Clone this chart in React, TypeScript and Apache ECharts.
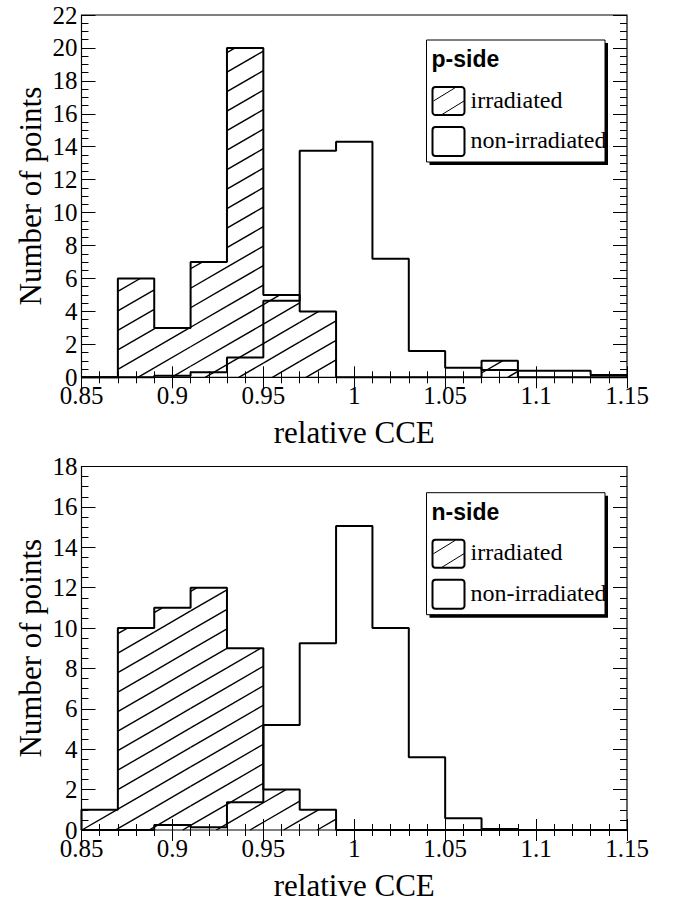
import React, { useEffect, useRef } from "react";
import * as echarts from "echarts";

// Histogram binning (relative CCE), 15 bins of width 0.02
const binEdges = [0.85, 0.87, 0.89, 0.91, 0.93, 0.95, 0.97, 0.99, 1.01, 1.03, 1.05, 1.07, 1.09, 1.11, 1.13, 1.15];

// p-side counts per bin
const pSideIrradiated = [0, 6, 3, 7, 20, 5, 4, 0, 0, 0, 0, 1, 0, 0, 0];
const pSideNonIrradiated = [0, 0, 0.1, 0.3, 1.2, 4.65, 13.75, 14.3, 7.2, 1.6, 0.58, 0.45, 0.4, 0.4, 0.14];

// n-side counts per bin
const nSideIrradiated = [1, 10, 11, 12, 9, 2, 1, 0, 0, 0, 0, 0, 0, 0, 0];
const nSideNonIrradiated = [0, 0, 0.25, 0.13, 1.37, 5.2, 9.25, 15.05, 10, 3.6, 0.58, 0.05, 0, 0, 0];

const xTicks = { min: 0.85, max: 1.15, interval: 0.05 };
const pSideY = { min: 0, max: 22, interval: 2 };
const nSideY = { min: 0, max: 18, interval: 2 };

const panelTitles = ["p-side", "n-side"];
const legendLabels = ["irradiated", "non-irradiated"];
const xTitle = "relative CCE";
const yTitle = "Number of points";

const SERIF = "'Liberation Serif', 'Times New Roman', serif";
const SANS = "'Liberation Sans', Arial, sans-serif";

// Hatch geometry (pixels)
const HATCH_SLOPE = 0.58;
const HATCH_SPACING = 19.5;

// bins -> [lo, hi, value]
const toBins = (vals: number[]) => vals.map((v, i) => [binEdges[i], binEdges[i + 1], v]);

// step outline through the bin edges, closed down to zero at both ends
const toOutline = (vals: number[]) => {
  const pts: number[][] = [[binEdges[0], 0]];
  vals.forEach((v, i) => pts.push([binEdges[i], v]));
  pts.push([binEdges[vals.length], vals[vals.length - 1]]);
  pts.push([binEdges[vals.length], 0]);
  return pts;
};

// diagonal "/" hatching clipped to each bin's rectangle
const hatchRenderer = (phase: number) => (params: any, api: any) => {
  const lo = api.value(0);
  const hi = api.value(1);
  const v = api.value(2);
  if (!(v > 0)) return { type: "group", children: [] };
  const p0 = api.coord([lo, 0]);
  const p1 = api.coord([hi, v]);
  const left = p0[0];
  const right = p1[0];
  const bottom = p0[1];
  const top = p1[1];
  const s = HATCH_SLOPE;
  const cMin = top + s * left;
  const cMax = bottom + s * right;
  const kStart = Math.ceil((cMin - phase) / HATCH_SPACING);
  const children: any[] = [];
  for (let k = kStart; phase + k * HATCH_SPACING <= cMax; k++) {
    const c = phase + k * HATCH_SPACING;
    const xa = Math.max(left, (c - bottom) / s);
    const xb = Math.min(right, (c - top) / s);
    if (xb - xa < 0.5) continue;
    children.push({
      type: "line",
      shape: { x1: xa, y1: c - s * xa, x2: xb, y2: c - s * xb },
      style: { stroke: "#000", lineWidth: 1.4 },
    });
  }
  return { type: "group", children };
};

const gridBox = [
  { left: 81.5, top: 15, width: 545.5, height: 362.3 },
  { left: 81.5, top: 466.5, width: 545.5, height: 363.5 },
];

const tickStyle = { color: "#000", width: 1 };

const makeX = (gridIndex: number, position: "bottom" | "top") => ({
  type: "value",
  gridIndex,
  position,
  min: xTicks.min,
  max: xTicks.max,
  interval: xTicks.interval,
  axisLine: { show: false },
  splitLine: { show: false },
  axisTick: { show: true, inside: true, length: 11, lineStyle: tickStyle },
  minorTick: { show: true, splitNumber: 5, length: 6, lineStyle: tickStyle },
  axisLabel: {
    show: position === "bottom",
    margin: 8,
    fontFamily: SERIF,
    fontSize: 25,
    lineHeight: 20,
    color: "#000",
    formatter: (v: number) => String(Math.round(v * 100) / 100),
  },
});

const makeY = (gridIndex: number, position: "left" | "right", range: { min: number; max: number; interval: number }) => ({
  type: "value",
  gridIndex,
  position,
  min: range.min,
  max: range.max,
  interval: range.interval,
  axisLine: { show: false },
  splitLine: { show: false },
  axisTick: { show: true, inside: true, length: 14, lineStyle: tickStyle },
  minorTick: { show: true, splitNumber: 4, length: 7, lineStyle: tickStyle },
  axisLabel: {
    show: position === "left",
    margin: 4,
    fontFamily: SERIF,
    fontSize: 25,
    lineHeight: 16,
    color: "#000",
  },
});

const outlineSeries = (vals: number[], xi: number, yi: number) => ({
  type: "line",
  xAxisIndex: xi,
  yAxisIndex: yi,
  step: "end",
  symbol: "none",
  clip: false,
  silent: true,
  lineStyle: { color: "#000", width: 2 },
  data: toOutline(vals),
  z: 5,
});

const hatchSeries = (vals: number[], xi: number, yi: number, phase: number) => ({
  type: "custom",
  xAxisIndex: xi,
  yAxisIndex: yi,
  silent: true,
  encode: { x: [0, 1], y: 2 },
  renderItem: hatchRenderer(phase),
  data: toBins(vals),
  z: 3,
});

// Legend box with drop shadow, title and two swatches
const legendGraphic = (title: string, dy: number) => {
  const bx = 426.5;
  const by = 40 + dy;
  const bw = 178.5;
  const bh = 122;
  const sx = 432.5;
  return [
    { type: "rect", shape: { x: bx + 3, y: by + 3, width: bw, height: bh }, style: { fill: "#000" }, z: 100 },
    { type: "rect", shape: { x: bx, y: by, width: bw, height: bh }, style: { fill: "#fff", stroke: "#000", lineWidth: 1 }, z: 101 },
    {
      type: "text",
      x: bx + 5,
      y: by + 19,
      style: { text: title, font: `bold 23px ${SANS}`, fill: "#000", textAlign: "left", textVerticalAlign: "middle" },
      z: 102,
    },
    { type: "rect", shape: { x: sx, y: by + 47, width: 32, height: 28, r: 3 }, style: { fill: "#fff", stroke: "#000", lineWidth: 2 }, z: 102 },
    { type: "line", shape: { x1: sx + 1, y1: by + 61, x2: sx + 23, y2: by + 47.5 }, style: { stroke: "#000", lineWidth: 1 }, z: 103 },
    { type: "line", shape: { x1: sx + 9.5, y1: by + 74.5, x2: sx + 31.5, y2: by + 61 }, style: { stroke: "#000", lineWidth: 1 }, z: 103 },
    {
      type: "text",
      x: sx + 38,
      y: by + 59.5,
      style: { text: legendLabels[0], font: `24px ${SERIF}`, fill: "#000", textAlign: "left", textVerticalAlign: "middle" },
      z: 102,
    },
    { type: "rect", shape: { x: sx, y: by + 87, width: 32, height: 29, r: 3 }, style: { fill: "#fff", stroke: "#000", lineWidth: 2 }, z: 102 },
    {
      type: "text",
      x: sx + 38,
      y: by + 100.3,
      style: { text: legendLabels[1], font: `24px ${SERIF}`, fill: "#000", textAlign: "left", textVerticalAlign: "middle" },
      z: 102,
    },
  ];
};

const axisTitles = () => {
  const out: any[] = [];
  gridBox.forEach((g) => {
    out.push({
      type: "text",
      x: 30,
      y: g.top + g.height / 2,
      rotation: Math.PI / 2,
      style: { text: yTitle, font: `31px ${SERIF}`, fill: "#000", textAlign: "center", textVerticalAlign: "middle" },
      z: 50,
    });
    out.push({
      type: "text",
      x: g.left + g.width / 2,
      y: g.top + g.height + 55,
      style: { text: xTitle, font: `31px ${SERIF}`, fill: "#000", textAlign: "center", textVerticalAlign: "middle" },
      z: 50,
    });
  });
  return out;
};

export default function App() {
  const ref = useRef<HTMLDivElement>(null);
  useEffect(() => {
    if (!ref.current) return;
    const chart = echarts.init(ref.current, undefined, { renderer: "svg" });
    chart.setOption({
      animation: false,
      backgroundColor: "#fff",
      grid: gridBox.map((g) => ({ ...g, show: true, borderColor: "#000", borderWidth: 1.2, backgroundColor: "transparent" })),
      xAxis: [makeX(0, "bottom"), makeX(0, "top"), makeX(1, "bottom"), makeX(1, "top")],
      yAxis: [makeY(0, "left", pSideY), makeY(0, "right", pSideY), makeY(1, "left", nSideY), makeY(1, "right", nSideY)],
      series: [
        hatchSeries(pSideIrradiated, 0, 0, 8.8),
        outlineSeries(pSideIrradiated, 0, 0),
        outlineSeries(pSideNonIrradiated, 0, 0),
        hatchSeries(nSideIrradiated, 2, 2, 0),
        outlineSeries(nSideIrradiated, 2, 2),
        outlineSeries(nSideNonIrradiated, 2, 2),
      ],
      graphic: [...axisTitles(), ...legendGraphic(panelTitles[0], 0), ...legendGraphic(panelTitles[1], 452.7)],
    });
    return () => chart.dispose();
  }, []);
  return <div ref={ref} style={{ position: "absolute", left: 0, top: 0, width: 676, height: 903 }} />;
}
